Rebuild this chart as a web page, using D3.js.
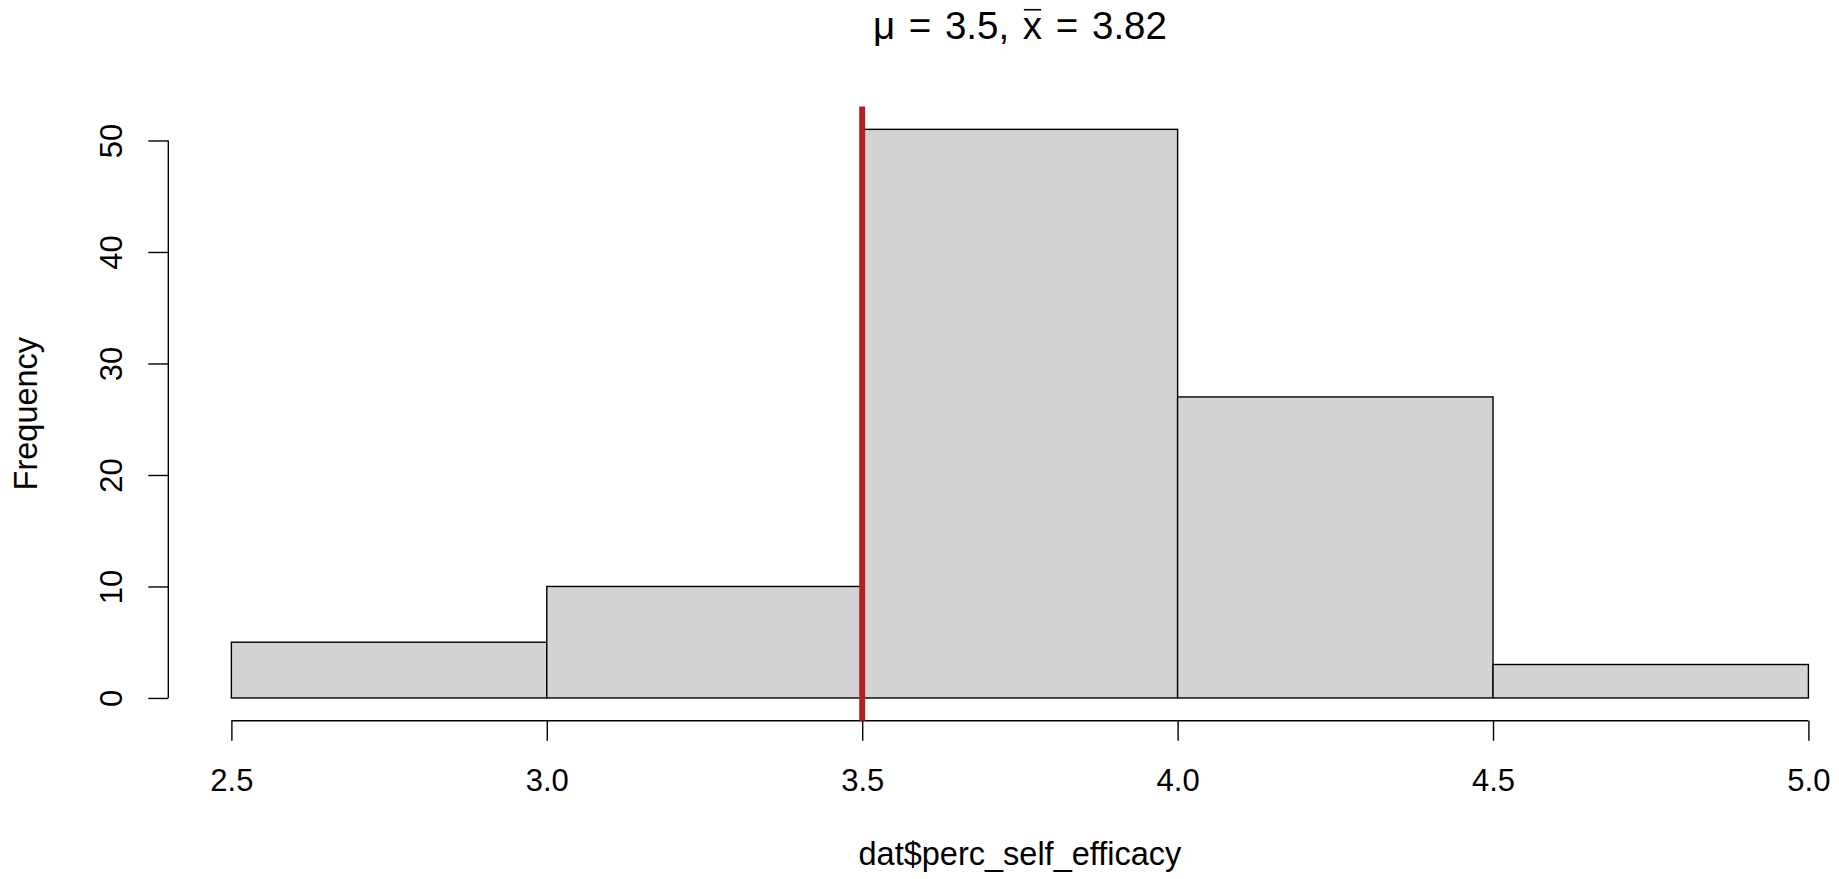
<!DOCTYPE html>
<html>
<head>
<meta charset="utf-8">
<script src="https://cdn.jsdelivr.net/npm/d3@7"></script>
<style>
  html, body { margin: 0; padding: 0; background: #fff; }
  svg { display: block; font-family: "Liberation Sans", Arial, Helvetica, sans-serif; }
</style>
</head>
<body>
<svg id="chart" width="1839" height="879"></svg>
<script>
// Histogram of perceived self-efficacy scores
const breaks = [2.5, 3.0, 3.5, 4.0, 4.5, 5.0];
const counts = [5, 10, 51, 27, 3];
const xTicks = [2.5, 3.0, 3.5, 4.0, 4.5, 5.0];
const yTicks = [0, 10, 20, 30, 40, 50];
const muValue = 3.5;
const meanValue = 3.82;
const xLabel = "dat$perc_self_efficacy";
const yLabel = "Frequency";

const svg = d3.select("#chart");

// plot region with 4% padding on each data range
const xMin = breaks[0], xMax = breaks[breaks.length - 1];
const yMax = d3.max(counts);
const xPad = (xMax - xMin) * 0.04, yPad = yMax * 0.04;

const plot = { left: 168.3, right: 1871.5, top: 106.6, bottom: 720.7 };

const x = d3.scaleLinear().domain([xMin - xPad, xMax + xPad]).range([plot.left, plot.right]);
const y = d3.scaleLinear().domain([-yPad, yMax + yPad]).range([plot.bottom, plot.top]);

const bins = counts.map((c, i) => ({ x0: breaks[i], x1: breaks[i + 1], n: c }));

const tickFont = "31px", labelFont = "32.5px";

// bars
svg.append("g").selectAll("rect").data(bins).join("rect")
  .attr("x", d => x(d.x0))
  .attr("y", d => y(d.n))
  .attr("width", d => x(d.x1) - x(d.x0))
  .attr("height", d => y(0) - y(d.n))
  .attr("fill", "#d3d3d3")
  .attr("stroke", "#000")
  .attr("stroke-width", 1.4);

// x axis
const gx = svg.append("g").attr("transform", `translate(0,${plot.bottom})`)
  .call(d3.axisBottom(x).tickValues(xTicks).tickSize(20).tickPadding(0)
    .tickFormat(d3.format(".1f")));
gx.select(".domain").remove();
gx.append("line")
  .attr("x1", x(xTicks[0])).attr("x2", x(xTicks[xTicks.length - 1]))
  .attr("stroke", "#000").attr("stroke-width", 1.4);
gx.selectAll(".tick line").attr("stroke", "#000").attr("stroke-width", 1.4);
gx.selectAll(".tick text")
  .attr("y", 70.3).attr("dy", 0)
  .attr("fill", "#000").style("font-size", tickFont).style("font-family", "inherit");

// y axis
const gy = svg.append("g").attr("transform", `translate(${plot.left},0)`)
  .call(d3.axisLeft(y).tickValues(yTicks).tickSize(20).tickPadding(0));
gy.select(".domain").remove();
gy.append("line")
  .attr("y1", y(yTicks[0])).attr("y2", y(yTicks[yTicks.length - 1]))
  .attr("stroke", "#000").attr("stroke-width", 1.4);
gy.selectAll(".tick line").attr("stroke", "#000").attr("stroke-width", 1.4);
gy.selectAll(".tick text")
  .attr("transform", "rotate(-90)")
  .attr("x", 0).attr("y", -46.3).attr("dy", 0)
  .attr("text-anchor", "middle")
  .attr("fill", "#000").style("font-size", tickFont).style("font-family", "inherit");

// hypothesised mean
svg.append("line")
  .attr("x1", x(muValue)).attr("x2", x(muValue))
  .attr("y1", plot.top).attr("y2", plot.bottom)
  .attr("stroke", "#b22222").attr("stroke-width", 6);

// axis titles
const midX = (plot.left + plot.right) / 2;
svg.append("text")
  .attr("x", midX).attr("y", 865)
  .attr("text-anchor", "middle").style("font-size", labelFont)
  .text(xLabel);
svg.append("text")
  .attr("transform", `translate(37,${(plot.top + plot.bottom) / 2}) rotate(-90)`)
  .attr("text-anchor", "middle").style("font-size", labelFont)
  .text(yLabel);

// main title: mu and sample mean (x with bar)
const titleSize = 38.5, titleBase = 39;
const title = svg.append("text")
  .attr("x", midX).attr("y", titleBase)
  .attr("text-anchor", "middle").style("font-size", titleSize + "px")
  .style("word-spacing", "3px");
const titleStr = `\u03bc = ${muValue}, x = ${meanValue}`;
title.text(titleStr);
const xi = titleStr.indexOf("x");
const node = title.node();
const sx = node.getStartPositionOfChar(xi).x;
const ex = node.getEndPositionOfChar(xi).x;
svg.append("line")
  .attr("x1", sx + 1).attr("x2", ex - 1)
  .attr("y1", titleBase - titleSize * 0.76).attr("y2", titleBase - titleSize * 0.76)
  .attr("stroke", "#000").attr("stroke-width", 1.6);
</script>
</body>
</html>
